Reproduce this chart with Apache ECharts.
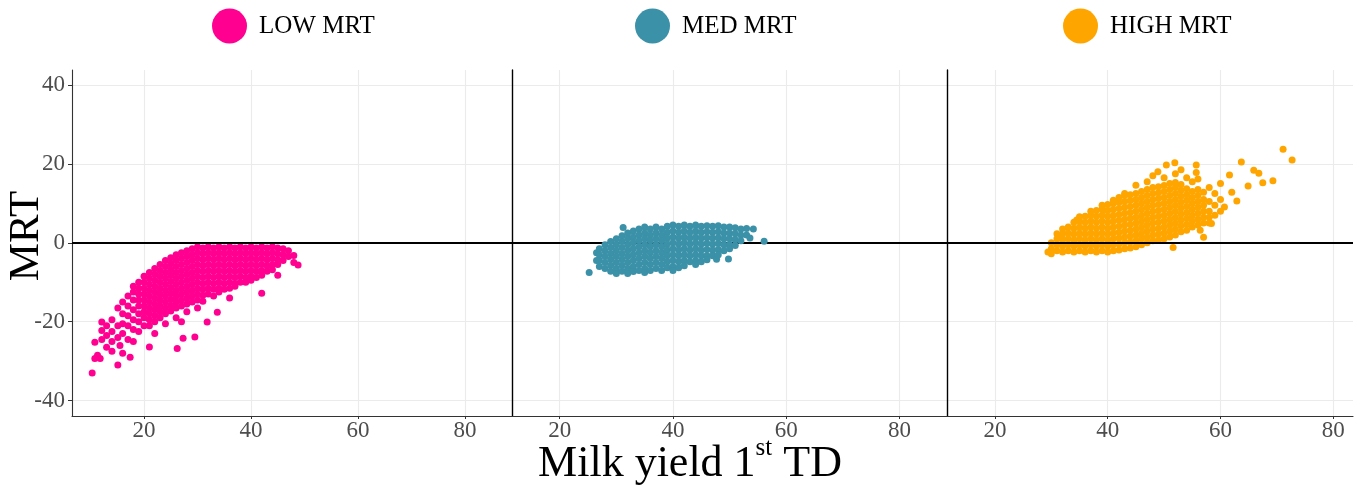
<!DOCTYPE html>
<html><head><meta charset="utf-8">
<script src="https://cdn.jsdelivr.net/npm/echarts@6/dist/echarts.min.js"></script>
<style>html,body{margin:0;padding:0;background:#fff}#c{width:1360px;height:486px}</style>
</head><body><div id="c"></div>
<script>
const seriesNames = ['LOW MRT', 'MED MRT', 'HIGH MRT'];
const seriesColors = ['#FF0090', '#3A91A8', '#FFA500'];
const xTicks = [20, 40, 60, 80];
const yTicks = [-40, -20, 0, 20, 40];
const xTitle = '{a|Milk yield 1}{s|st}{a| TD}';
const yTitle = 'MRT';

// [milk yield, [MRT values at that milk yield]]
const lowMRT = [
 [10.3,[-33]],[10.8,[-29.3,-25.2]],[11.3,[-28.5]],[11.8,[-29.3]],[12.1,[-20.1,-22.2,-24.5]],
 [13,[-21,-23.5,-26.5]],[14,[-19.5,-22.5,-25,-27.5]],[15.1,[-16.5,-21,-24,-31]],[15.5,[-26]],
 [16,[-15,-18,-20.5,-23,-28]],[17,[-13.5,-16,-18.5,-21,-24.5]],[17.4,[-29]],
 [18,[-11,-12.5,-14.5,-17,-19.5,-22,-25]],[19,[-10,-11.5,-13,-14.5,-16,-18,-20,-22.5]],
 [20,[-8.5,-10,-11.5,-13,-14.5,-16,-17.5,-19,-21]],
 [21,[-7.5,-9,-10.5,-12,-13.5,-15,-16.5,-18,-19.5,-21,-26.4]],
 [22,[-6.5,-8,-9.5,-11,-12.5,-14,-15.5,-17,-18.5,-20,-23]],
 [23,[-5.5,-7,-8.5,-10,-11.5,-13,-14.5,-16,-17.5,-19]],
 [24,[-4.5,-6,-7.5,-9,-10.5,-12,-13.5,-15,-16.5,-18,-20.5]],
 [25,[-3.8,-5.3,-6.8,-8.3,-9.8,-11.3,-12.8,-14.3,-15.8,-17.3]],
 [26,[-3,-4.5,-6,-7.5,-9,-10.5,-12,-13.5,-15,-16.5,-19]],[26.2,[-26.8]],
 [27,[-2.5,-4,-5.5,-7,-8.5,-10,-11.5,-13,-14.5,-16,-20]],[27.3,[-24.2]],
 [28,[-2,-3.5,-5,-6.5,-8,-9.5,-11,-12.5,-14,-15.5,-17.5]],
 [29,[-1.5,-3,-4.5,-6,-7.5,-9,-10.5,-12,-13.5,-15]],[29.5,[-23.9]],
 [30,[-1,-2.5,-4,-5.5,-7,-8.5,-10,-11.5,-13,-14.5,-16.5]],
 [31,[-1.3,-2.8,-4.3,-5.8,-7.3,-8.8,-10.3,-11.8,-13.3,-14.8]],[31.8,[-20.1]],
 [32,[-1,-2.5,-4,-5.5,-7,-8.5,-10,-11.5,-13]],
 [33,[-1.3,-2.8,-4.3,-5.8,-7.3,-8.8,-10.3,-11.8,-13.5]],[33.7,[-17.6]],
 [34,[-1,-2.5,-4,-5.5,-7,-8.5,-10,-11.5,-12.5]],
 [35,[-1.3,-2.8,-4.3,-5.8,-7.3,-8.8,-10.3,-11.8]],
 [36,[-1,-2.5,-4,-5.5,-7,-8.5,-10,-11.5,-14]],
 [37,[-1.3,-2.8,-4.3,-5.8,-7.3,-8.8,-10.3,-11]],
 [38,[-1,-2.5,-4,-5.5,-7,-8.5,-10]],
 [39,[-1.3,-2.8,-4.3,-5.8,-7.3,-8.8,-10]],
 [40,[-1,-2.5,-4,-5.5,-7,-8.5,-9.5]],
 [41,[-1.3,-2.8,-4.3,-5.8,-7.3,-8.8]],
 [42,[-1,-2.5,-4,-5.5,-7,-8.2,-12.8]],
 [43,[-1.3,-2.8,-4.3,-5.8,-7.2]],
 [44,[-1,-2.5,-4,-5.5,-6.8]],
 [45,[-1.3,-2.8,-4.3,-5.5,-8.2]],
 [46,[-1.5,-3,-4.5]],[47,[-2,-3.5]],[48,[-3.2,-5]],[48.8,[-5.6]]
];

const medMRT = [
 [25.2,[-7.5]],[26.5,[-2.5,-4.5]],[27,[-1.5,-3,-4.5,-6]],[28,[-0.5,-2,-3.5,-5,-6.5]],
 [29,[0.3,-1.2,-2.7,-4.2,-5.7,-7.2]],[30,[1,-0.5,-2,-3.5,-5,-6.5,-7.8]],
 [31,[1.8,0.3,-1.2,-2.7,-4.2,-5.7,-7.2]],[31.2,[3.9]],
 [32,[2.5,1,-0.5,-2,-3.5,-5,-6.5,-7.8]],[33,[3,1.5,0,-1.5,-3,-4.5,-6,-7.3]],
 [34,[3.5,2,0.5,-1,-2.5,-4,-5.5,-7]],[35,[4,2.5,1,-0.5,-2,-3.5,-5,-6.5,-7.5]],
 [36,[3.5,2,0.5,-1,-2.5,-4,-5.5,-7]],[37,[4,2.5,1,-0.5,-2,-3.5,-5,-6.5]],
 [38,[3.5,2,0.5,-1,-2.5,-4,-5.5,-7]],[39,[4.2,2.7,1.2,-0.3,-1.8,-3.3,-4.8,-6.3]],
 [40,[4.5,3,1.5,0,-1.5,-3,-4.5,-6,-7]],[41,[4.2,2.7,1.2,-0.3,-1.8,-3.3,-4.8,-6.3]],
 [42,[4.5,3,1.5,0,-1.5,-3,-4.5,-5.8]],[43,[4.2,2.7,1.2,-0.3,-1.8,-3.3,-4.8]],
 [44,[4.5,3,1.5,0,-1.5,-3,-4.5,-5.5]],[45,[4.2,2.7,1.2,-0.3,-1.8,-3.3,-4.8]],
 [46,[4.3,2.8,1.3,-0.2,-1.7,-3.2,-4.3]],[47,[4.2,2.7,1.2,-0.3,-1.8,-3.3]],[47.7,[-4.2]],
 [48,[4.3,2.8,1.3,-0.2,-1.7,-3]],[49,[4,2.5,1,-0.5,-2]],[49.8,[-4.1]],
 [50,[4,2.5,1,-0.5,-1.5]],[51,[3.8,2.3,0.8,-0.7]],[52,[3.5,2,0.5]],[53,[3.6,2]],
 [53.6,[1.2]],[54.2,[3.5]],[56.1,[0.4]]
];

const highMRT = [
 [29.4,[-2.3]],[30,[-1.5,0,-2.8]],[31,[-2,-0.5,1,2.3]],[31.8,[1.5]],
 [32,[-2.3,-0.8,0.7,2.2,3.5]],[33,[-2,-0.5,1,2.5,4]],[34,[-2.3,-0.8,0.7,2.2,3.7,5.2]],[34.5,[5.8]],
 [35,[-2,-0.5,1,2.5,4,5.5,6.6]],[36,[-2.3,-0.8,0.7,2.2,3.7,5.2,6.7]],
 [37,[-2,-0.5,1,2.5,4,5.5,7,8]],[38,[-2.3,-0.8,0.7,2.2,3.7,5.2,6.7,8.2]],
 [39,[-2,-0.5,1,2.5,4,5.5,7,8.5,9.5]],[39.2,[8.3]],
 [40,[-2.3,-0.8,0.7,2.2,3.7,5.2,6.7,8.2,9.7]],
 [41,[-2,-0.5,1,2.5,4,5.5,7,8.5,10,10.8]],
 [42,[-1.8,-0.3,1.2,2.7,4.2,5.7,7.2,8.7,10.2,11.5]],
 [43,[-1.5,0,1.5,3,4.5,6,7.5,9,10.5,12,12.5]],
 [44,[-1.3,0.2,1.7,3.2,4.7,6.2,7.7,9.2,10.7,12.2]],
 [45,[-1,0.5,2,3.5,5,6.5,8,9.5,11,12.5,14.6]],
 [46,[-0.5,1,2.5,4,5.5,7,8.5,10,11.5,13]],
 [47,[0,1.5,3,4.5,6,7.5,9,10.5,12,13.5,15.5]],
 [48,[0.5,2,3.5,5,6.5,8,9.5,11,12.5,14,17]],[48.9,[18]],
 [49,[0.7,2.2,3.7,5.2,6.7,8.2,9.7,11.2,12.7,14.2]],
 [50,[1,2.5,4,5.5,7,8.5,10,11.5,13,14.5,16.5]],[50.4,[19.7]],
 [51,[1.5,3,4.5,6,7.5,9,10.5,12,13.5,15]],[51.6,[-1.2]],[51.9,[20.3]],
 [52,[2,3.5,5,6.5,8,9.5,11,12.5,14,15.3,17.5]],
 [53,[2.8,4.3,5.8,7.3,8.8,10.3,11.8,13.3,14.8,18.5]],
 [54,[3.2,4.7,6.2,7.7,9.2,10.7,12.2,13.7,16.5]],
 [55,[4,5.5,7,8.5,10,11.5,13,15.5]],[55.7,[19.7,17.8]],
 [56,[4.5,6,7.5,9,10.5,12,13.5,16.2]],[56.4,[3.2]],
 [57,[1.4,5,6.5,8,9.5,11,12.8]],[58,[5,6.5,8,10.5,14]],[58.4,[4.9]],
 [59,[7,9.5,12.5]],[60,[8,11,15]],[60.7,[9.1]],[61.6,[17.2]],[62,[12.8]],[62.9,[10.6]],
 [63.7,[20.5]],[64.9,[14.4]],[65.9,[18.4]],[66.8,[17.6]],[67.5,[15.2]],[69.3,[15.7]],
 [71.1,[23.7]],[72.7,[21]]
];

const groups = [lowMRT, medMRT, highMRT];
const toPoints = g => g.flatMap(([x, ys]) => ys.map(y => [x, y]));

const SERIF = "'Liberation Serif', 'Times New Roman', serif";
const panels = [
  {left: 72, width: 440, xmin: 6.53, xmax: 88.8},
  {left: 512, width: 435, xmin: 11.57, xmax: 88.4},
  {left: 947, width: 406, xmin: 11.5, xmax: 83.5}
];
const legendLeft = [212, 635, 1063];
const lineOnTop = [true, false, true];

const chart = echarts.init(document.getElementById('c'), null, {renderer: 'canvas'});
const gridLine = {show: true, lineStyle: {color: '#EBEBEB', width: 1.1}};

const option = {
  animation: false,
  backgroundColor: '#fff',
  grid: panels.map(p => ({left: p.left, width: p.width, top: 70, height: 346, containLabel: false})),
  legend: seriesNames.map((n, i) => ({
    data: [n], left: legendLeft[i], top: 8.5, padding: 0, icon: 'circle',
    itemWidth: 35, itemHeight: 35, selectedMode: false,
    textStyle: {fontFamily: SERIF, fontSize: 25, color: '#000', padding: [0, 0, 0, 7]}
  })),
  xAxis: panels.map((p, i) => ({
    type: 'value', gridIndex: i, min: p.xmin, max: p.xmax,
    axisLine: {show: true, onZero: false, lineStyle: {color: '#333', width: 1.1}},
    axisTick: {show: true, length: 3, customValues: xTicks, lineStyle: {color: '#333'}},
    axisLabel: {customValues: xTicks, margin: 3, fontFamily: SERIF, fontSize: 23, color: '#4D4D4D'},
    splitLine: gridLine
  })),
  yAxis: panels.map((p, i) => ({
    type: 'value', gridIndex: i, min: -43.9, max: 43.8,
    axisLine: i === 0
      ? {show: true, onZero: false, lineStyle: {color: '#333', width: 1.1}}
      : {show: true, onZero: false, lineStyle: {color: '#000', width: 1.4}},
    axisTick: {show: i === 0, length: 4, customValues: yTicks, lineStyle: {color: '#333'}},
    axisLabel: {show: i === 0, customValues: yTicks, margin: 7, fontFamily: SERIF, fontSize: 23, color: '#4D4D4D'},
    splitLine: gridLine
  })),
  graphic: [
    {type: 'text', x: 27, y: 236, rotation: Math.PI / 2,
     style: {text: yTitle, font: '43px ' + SERIF, fill: '#000', align: 'center', verticalAlign: 'middle'}},
    {type: 'text', x: 690, y: 436,
     style: {text: xTitle, align: 'center', verticalAlign: 'top',
       rich: {
         a: {fontFamily: SERIF, fontSize: 44, fill: '#000', padding: [6, 0, 0, 0]},
         s: {fontFamily: SERIF, fontSize: 25, fill: '#000', verticalAlign: 'top'}
       }}}
  ],
  series: groups.map((g, i) => ({
    name: seriesNames[i], type: 'scatter', xAxisIndex: i, yAxisIndex: i,
    data: toPoints(g), symbol: 'circle', symbolSize: 7,
    itemStyle: {color: seriesColors[i], opacity: 1},
    emphasis: {disabled: true},
    z: 3,
    markLine: {
      silent: true, symbol: 'none', z: lineOnTop[i] ? 5 : 1,
      label: {show: false},
      lineStyle: {color: '#000', width: 2.2, type: 'solid'},
      data: [{yAxis: 0}]
    }
  }))
};
chart.setOption(option);
</script>
</body></html>
